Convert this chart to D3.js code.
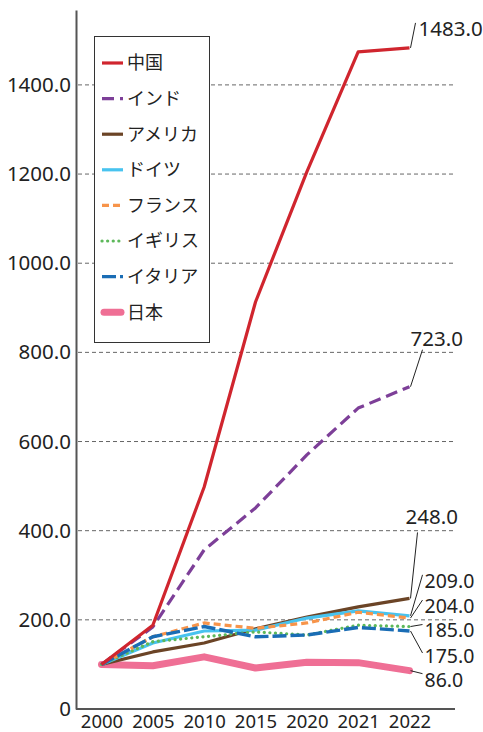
<!DOCTYPE html>
<html><head><meta charset="utf-8">
<script src="https://cdn.jsdelivr.net/npm/d3@7"></script>
<style>
html,body{margin:0;padding:0;background:#fff;}
svg text{font-family:"Noto Sans CJK JP","Noto Sans",sans-serif;fill:#222;}
svg text.num{font-family:"Noto Sans","DejaVu Sans",sans-serif;}
</style></head>
<body><svg id="c" width="483" height="732"></svg>
<script>
const years = ["2000","2005","2010","2015","2020","2021","2022"];
const seriesNames = ["中国","インド","アメリカ","ドイツ","フランス","イギリス","イタリア","日本"];
const china   = [100,188,498,913,1205,1474,1483];
const india   = [100,184,357,451,570,675,723];
const usa     = [100,128,148,180,206,229,248];
const germany = [100,148,175,177,204,220,209];
const france  = [100,162,193,181,193,217,204];
const uk      = [100,151,162,173,166,188,185];
const italy   = [100,162,185,162,166,183,175];
const japan   = [100,97,117,92,105,104,86];
const yTicks  = [0,200,400,600,800,1000,1200,1400];

const seriesValues = [china,india,usa,germany,france,uk,italy,japan];
// styles
const colors = ["#d0252e","#7d3f98","#6b4426","#48c3ef","#f7944a","#5db85a","#1a6db5","#ef6f95"];
const widths = [3.2,3.2,3.2,3.2,3.2,3.2,3.4,7];
const dashes = [null,"12,6",null,null,"7,4","0.1,5.5","14,4",null];
const caps   = ["butt","butt","butt","butt","butt","round","butt","round"];
// label layout (pixel offsets from line end)
const labelOff = [[9,-19],[1,-48],[-4,-82],[15,-35],[15,-12],[15,4],[15,25],[15,10]];
const leaderEnd = [[6,-25],[13,-37],[8,-66],[13,-41],[13,-18],[13,-2],[13,22],[13,3]];

const svg = d3.select("#c");
const x = d3.scalePoint().domain(years).range([101.5,409.5]);
const y = d3.scaleLinear().domain([0,1568]).range([709,10]);
const fmt = d3.format(".1f");

// gridlines
svg.append("g").selectAll("line").data(yTicks.filter(d=>d>0)).join("line")
  .attr("x1",78).attr("x2",456).attr("y1",d=>y(d)).attr("y2",d=>y(d))
  .attr("stroke","#666").attr("stroke-width",1).attr("stroke-dasharray","4,3");

// y axis
const ya = svg.append("g").attr("transform","translate(76,0)")
  .call(d3.axisLeft(y).tickValues(yTicks).tickSize(0).tickPadding(5).tickFormat(d=>d===0?"0":fmt(d)));
ya.select(".domain").attr("stroke","#555").attr("stroke-width",2);
ya.selectAll("text").attr("class","num").attr("font-size",20.5).attr("fill","#222").attr("font-family",null);

// x axis
const xa = svg.append("g").attr("transform","translate(0,709)")
  .call(d3.axisBottom(x).tickSize(0).tickPadding(6));
xa.select(".domain").attr("d","M76,0H455").attr("stroke","#555").attr("stroke-width",2);
xa.selectAll("text").attr("class","num").attr("font-size",18.5).attr("fill","#222").attr("font-family",null);

// lines
const line = d3.line().x((d,i)=>x(years[i])).y(d=>y(d));
const order = [7,2,3,5,4,6,1,0];
order.forEach(k=>{
  svg.append("path").datum(seriesValues[k]).attr("d",line)
    .attr("fill","none").attr("stroke",colors[k]).attr("stroke-width",widths[k])
    .attr("stroke-dasharray",dashes[k]).attr("stroke-linecap",caps[k]).attr("stroke-linejoin","round");
});

// end labels
seriesValues.forEach((vals,k)=>{
  const v = vals[vals.length-1];
  const ex = x(years[years.length-1]), ey = y(v);
  svg.append("line").attr("x1",ex+1).attr("y1",ey).attr("x2",ex+leaderEnd[k][0]).attr("y2",ey+leaderEnd[k][1])
    .attr("stroke","#222").attr("stroke-width",1);
  svg.append("text").attr("class","num").attr("x",ex+labelOff[k][0]).attr("y",ey+labelOff[k][1]).attr("dy","0.35em")
    .attr("font-size",k>=3?19.5:20.5).text(fmt(v));
});

// legend
const lg = svg.append("g");
lg.append("rect").attr("x",94.5).attr("y",36.5).attr("width",115).attr("height",306)
  .attr("fill","#fff").attr("stroke","#333").attr("stroke-width",1);
seriesNames.forEach((n,k)=>{
  const cy = 63 + k*35.6;
  lg.append("line").attr("x1",k===7?104:102).attr("x2",k===7?121:123).attr("y1",cy).attr("y2",cy)
    .attr("stroke",colors[k]).attr("stroke-width",widths[k]).attr("stroke-dasharray",dashes[k])
    .attr("stroke-linecap",caps[k]);
  lg.append("text").attr("x",127).attr("y",cy).attr("dy","0.35em").attr("font-size",18).text(n);
});
</script></body></html>
